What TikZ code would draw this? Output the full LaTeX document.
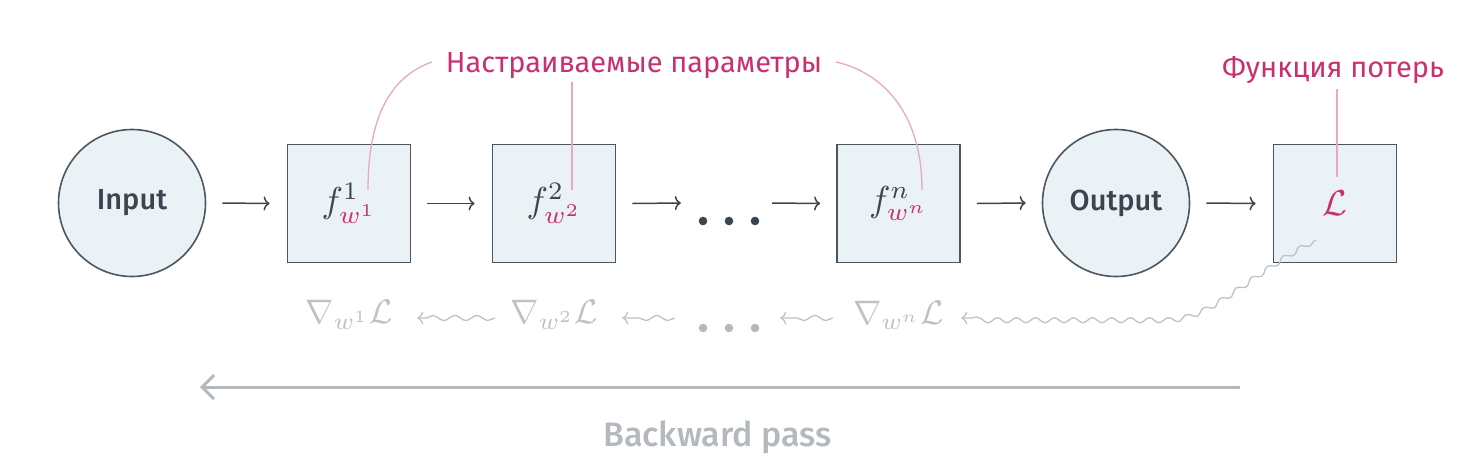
\documentclass[tikz,border=0pt]{standalone}
\usepackage{fontspec}
\setmainfont{Fira Sans}
\newfontfamily\medfont{Fira Sans Medium}
\usetikzlibrary{arrows.meta,decorations.pathmorphing}
\definecolor{ink}{HTML}{3A4550}
\definecolor{edgec}{HTML}{4D5660}
\definecolor{fillc}{HTML}{EBF2F6}
\definecolor{pinkc}{HTML}{C9306F}
\definecolor{pinkl}{HTML}{E8A7C6}
\definecolor{gradc}{HTML}{BDC2C6}
\definecolor{backc}{HTML}{B4B9BE}
\begin{document}
\begin{tikzpicture}[x=1pt,y=-1pt,
  box/.style={draw=edgec,line width=1.8pt,fill=fillc,minimum width=123pt,minimum height=118pt,inner sep=0pt,text=ink},
  ball/.style={circle,draw=edgec,line width=1.6pt,fill=fillc,minimum size=147pt,inner sep=0pt,font=\medfont\fontsize{29}{32}\selectfont,text=ink},
  fwd/.style={draw=ink,line width=1.5pt,-{To[length=6pt,width=14pt]}},
  lead/.style={draw=pinkl,line width=1.3pt},
  grad/.style={inner sep=0pt,minimum height=30pt,text=gradc},
  wav/.style={draw=gradc,line width=1.3pt,decorate,decoration={snake,amplitude=2.5pt,segment length=22pt,post length=6pt},-{To[length=6pt,width=13pt]}},
  wavlong/.style={draw=gradc,line width=1.3pt,decorate,decoration={snake,amplitude=2.5pt,segment length=19pt,post length=6pt,pre length=2pt},-{To[length=6pt,width=13pt]}},
  pinklabel/.style={inner sep=0pt,anchor=base,text=pinkc,font=\fontsize{29}{32}\selectfont},
  back/.style={draw=backc,line width=3pt,-{Straight Barb[length=12pt,width=24pt]}}
 ]
\useasboundingbox (0,0) rectangle (1470,464);
% forward row
\node[ball] (in) at (132,203) {Input};
\node[box] (f1) at (349,203.5) {\scalebox{3.6}{$f^1_{\color{pinkc}w^1}$}};
\node[box] (f2) at (554,203.5) {\scalebox{3.6}{$f^2_{\color{pinkc}w^2}$}};
\node[inner sep=0pt,minimum width=91pt,minimum height=10pt] (dots) at (726.5,203) {};
\fill[ink] (703,221) circle[radius=4.3pt] (729,221) circle[radius=4.3pt] (755,221) circle[radius=4.3pt];
\node[box] (fn) at (898.5,203.5) {\scalebox{3.6}{$f^n_{\color{pinkc}w^n}$}};
\node[ball] (out) at (1116,203) {Output};
\node[box] (L) at (1335,203.5) {\scalebox{3.6}{$\color{pinkc}\mathcal{L}$}};
\draw[fwd] ([xshift=16pt]in.east) -- ([xshift=-17pt]f1.west);
\draw[fwd] ([xshift=16pt]f1.east) -- ([xshift=-17pt]f2.west);
\draw[fwd] ([xshift=16pt]f2.east) -- (dots.west);
\draw[fwd] (dots.east) -- ([xshift=-16pt]fn.west);
\draw[fwd] ([xshift=16pt]fn.east) -- ([xshift=-16pt]out.west);
\draw[fwd] ([xshift=16pt]out.east) -- ([xshift=-17pt]L.west);
% labels
\node[pinklabel] (par) at (634,72) {Настраиваемые параметры};
\node[pinklabel] (loss) at (1333,77) {Функция потерь};
\coordinate (p1) at (368,190);
\coordinate (p2) at (572,190);
\coordinate (p2t) at (572,82);
\coordinate (pn) at (922,190);
\coordinate (pL) at (1337,177);
\coordinate (pLt) at (1337,89);
\coordinate (c1s) at (432,62);
\coordinate (cns) at (836,62);
\draw[lead] (c1s) .. controls (395,75) and (368,110) .. (p1);
\draw[lead] (p2t) -- (p2);
\draw[lead] (cns) .. controls (880,72) and (922,110) .. (pn);
\draw[lead] (pLt) -- (pL);
% gradient row
\node[grad,minimum width=88pt] (g1) at (349,315) {\scalebox{3.4}{$\nabla_{w^1}\mathcal{L}$}};
\node[grad,minimum width=88pt] (g2) at (554,315) {\scalebox{3.4}{$\nabla_{w^2}\mathcal{L}$}};
\node[inner sep=0pt,minimum width=105pt,minimum height=10pt] (gdots) at (727.5,318) {};
\fill[backc] (703,328) circle[radius=4.3pt] (729,328) circle[radius=4.3pt] (755,328) circle[radius=4.3pt];
\node[grad,minimum width=91pt] (gn) at (898.5,315) {\scalebox{3.4}{$\nabla_{w^n}\mathcal{L}$}};
\draw[wav] ([xshift=-15pt,yshift=-3pt]g2.west) -- ([xshift=24pt,yshift=-3pt]g1.east);
\draw[wav] (gdots.west) -- ([xshift=24pt,yshift=-3pt]g2.east);
\draw[wav] ([xshift=-20pt,yshift=-3pt]gn.west) -- (gdots.east);
\coordinate (ls) at (1316,240);
\draw[wavlong] (ls) .. controls (1250,275) and (1215,318) .. (1170,318) -- ([xshift=17pt,yshift=-3pt]gn.east);
% backward pass
\coordinate (bs) at (1240,387);
\coordinate (be) at (200,387);
\draw[back] (bs) -- (be);
\node[inner sep=0pt,anchor=base,text=backc,font=\medfont\fontsize{34}{38}\selectfont] (bp) at (717.5,446) {Backward pass};
\end{tikzpicture}
\end{document}
